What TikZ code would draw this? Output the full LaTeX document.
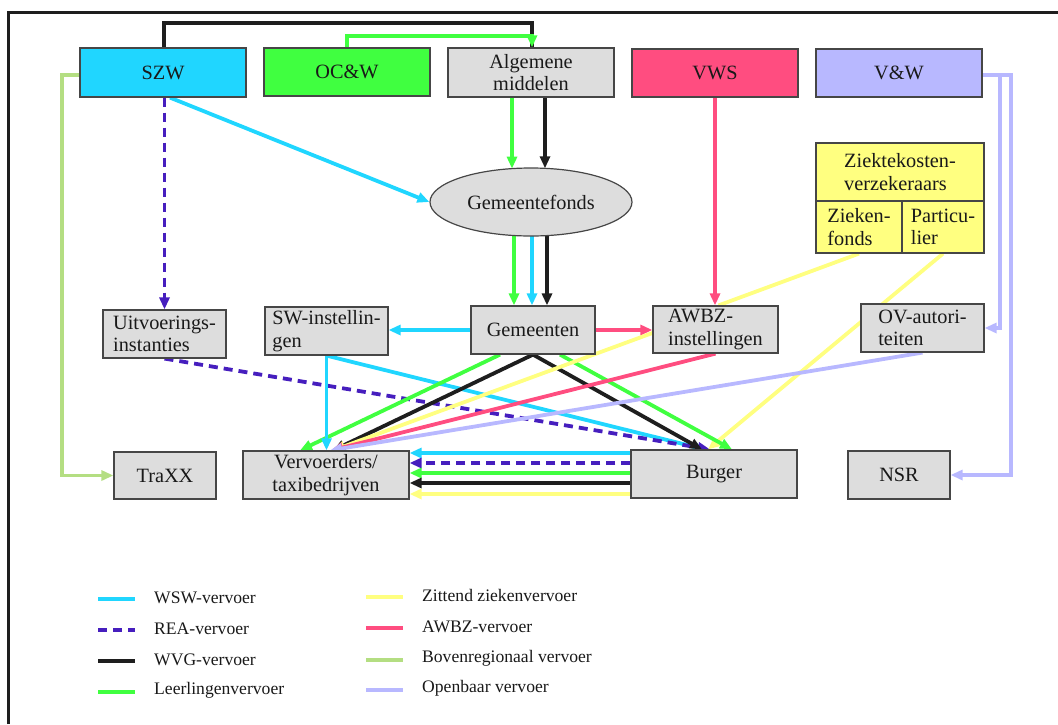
\documentclass[tikz,border=0pt]{standalone}
\usepackage{fontspec}
\setmainfont{Liberation Serif}
\usetikzlibrary{arrows.meta,shapes.geometric,backgrounds}

\definecolor{cWSW}{RGB}{32,214,255}
\definecolor{cREA}{RGB}{70,30,190}
\definecolor{cWVG}{RGB}{30,30,30}
\definecolor{cLeer}{RGB}{64,255,64}
\definecolor{cZit}{RGB}{255,255,128}
\definecolor{cAWBZ}{RGB}{255,77,128}
\definecolor{cBoven}{RGB}{180,222,130}
\definecolor{cOV}{RGB}{184,184,255}
\definecolor{boxgray}{RGB}{221,221,221}
\definecolor{boxline}{RGB}{70,70,70}
\definecolor{ink}{RGB}{25,25,25}

\begin{document}
\begin{tikzpicture}[x=1pt,y=-1pt,
  every node/.style={text=ink},
  box/.style={draw=boxline, line width=1.2pt, fill=boxgray, inner sep=0pt,
              align=left, font=\fontsize{20.3}{22.5}\selectfont},
  legtext/.style={anchor=west, inner sep=0pt, font=\fontsize{17.6}{20}\selectfont},
  conn/.style={line width=3.8pt},
  tip/.style={-{Triangle[length=12pt,width=10pt]}},
  lnWSW/.style={conn, draw=cWSW},
  lnREA/.style={conn, draw=cREA, dash pattern=on 9pt off 6pt},
  lnWVG/.style={conn, draw=cWVG},
  lnLeer/.style={conn, draw=cLeer},
  lnZit/.style={conn, draw=cZit},
  lnAWBZ/.style={conn, draw=cAWBZ},
  lnBoven/.style={conn, draw=cBoven},
  lnOV/.style={conn, draw=cOV},
  legline/.style={line width=3.8pt}
]
\useasboundingbox (0,0) rectangle (1058,724);

% outer frame
\draw[line width=3pt, draw=cWVG] (8,724) -- (8,12) -- (1058,12);

% ---- ministries and funds ----
\node[box, fill=cWSW, minimum width=166pt, minimum height=49pt] (szw) at (163,72.5) {SZW};
\node[box, fill=cLeer, minimum width=166pt, minimum height=48pt] (ocw) at (347,72) {OC\&W};
\node[box, align=center, minimum width=166pt, minimum height=49pt] (alg) at (531,72.5) {Algemene\\middelen};
\node[box, fill=cAWBZ, minimum width=166pt, minimum height=48pt] (vws) at (715,73) {VWS};
\node[box, fill=cOV, minimum width=166pt, minimum height=48pt] (vw) at (899,73) {V\&W};
\node[box, ellipse, minimum width=202pt, minimum height=68pt] (gf) at (531,202) {Gemeentefonds};

% health insurers
\node[box, fill=cZit, minimum width=168pt, minimum height=58pt] (zk) at (900,172) {Ziektekosten-\\verzekeraars};
\node[box, fill=cZit, minimum width=86pt, minimum height=52pt] (zkf) at (859,227) {Zieken-\\fonds};
\node[box, fill=cZit, minimum width=82pt, minimum height=52pt] (part) at (943,227) {Particu-\\lier};

% middle row
\node[box, minimum width=123pt, minimum height=48pt] (uitv) at (164.5,334) {Uitvoerings-\\instanties};
\node[box, minimum width=123pt, minimum height=48pt] (sw) at (326.5,331) {SW-instellin-\\gen};
\node[box, minimum width=124pt, minimum height=48pt] (gem) at (533,330) {Gemeenten};
\node[box, minimum width=125pt, minimum height=47pt] (awbz) at (715.5,329.5) {AWBZ-\\instellingen};
\node[box, minimum width=123pt, minimum height=48pt] (ov) at (922.5,328) {OV-autori-\\teiten};

% bottom row
\node[box, minimum width=102pt, minimum height=47pt] (traxx) at (165,475.5) {TraXX};
\node[box, align=center, minimum width=166pt, minimum height=48pt] (verv) at (326,475) {Vervoerders/\\taxibedrijven};
\node[box, minimum width=166pt, minimum height=48pt] (burger) at (714,474) {Burger};
\node[box, minimum width=102pt, minimum height=48pt] (nsr) at (899,475) {NSR};

% ---- money and transport flows (behind the boxes) ----
\begin{scope}[on background layer]
  % into Algemene middelen
  \coordinate (topB) at (532,23);
  \coordinate (topG) at (532,36);
  \draw[lnWVG] ([xshift=1pt]szw.north) |- (topB) -- ([xshift=1pt]alg.north);
  \draw[lnLeer,tip] (ocw.north) |- (topG) -- ([xshift=1pt]alg.north);

  % from SZW
  \draw[lnWSW,tip] ([xshift=7pt]szw.south) -- (gf.west);
  \draw[lnREA,tip] (szw.south -| uitv.north) -- (uitv.north);
  \coordinate (bvTurn) at (62,75);
  \draw[lnBoven,tip] ([yshift=-2.5pt]szw.west) -- (bvTurn) |- (traxx.west);

  % Algemene middelen -> Gemeentefonds
  \draw[lnLeer,tip] ([xshift=-19pt]alg.south) -- ([xshift=-19pt,yshift=33.4pt]gf.center);
  \draw[lnWVG,tip] ([xshift=14pt]alg.south) -- ([xshift=14pt,yshift=33.7pt]gf.center);

  % Gemeentefonds -> Gemeenten
  \draw[lnLeer,tip] ([xshift=-17pt,yshift=-33.5pt]gf.center) -- ([xshift=-19pt]gem.north);
  \draw[lnWSW,tip] ([xshift=1pt,yshift=-34pt]gf.center) -- ([xshift=-1pt]gem.north);
  \draw[lnWVG,tip] ([xshift=16pt,yshift=-33.6pt]gf.center) -- ([xshift=14pt]gem.north);

  % VWS -> AWBZ-instellingen
  \draw[lnAWBZ,tip] (vws.south) -- (vws.south |- awbz.north);

  % Gemeenten sideways
  \draw[lnWSW,tip] (gem.west) -- (sw.east |- gem.west);
  \draw[lnAWBZ,tip] (gem.east) -- (awbz.west |- gem.east);

  % towards Burger
  \draw[lnWSW,tip] (sw.south) -- ([xshift=-9pt]burger.north);
  \draw[lnREA,tip] (uitv.south) -- ([xshift=-4pt]burger.north);
  \draw[lnWVG,tip] (gem.south) -- ([xshift=-12pt]burger.north);
  \draw[lnZit,tip] (part.south) -- ([xshift=-6pt]burger.north);
  \draw[lnLeer,tip] ([xshift=27pt]gem.south) -- ([xshift=18pt]burger.north);

  % towards Vervoerders/taxibedrijven
  \draw[lnZit] (zkf.south) -- ([xshift=3pt]awbz.north);
  \draw[lnLeer,tip] ([xshift=-33pt]gem.south) -- ([xshift=-26pt]verv.north);
  \draw[lnWSW,tip] (sw.south) -- (sw.south |- verv.north);
  \draw[lnWVG,tip] (gem.south) -- ([xshift=7pt]verv.north);
  \draw[lnZit,tip] ([yshift=-3.5pt]awbz.west) -- ([xshift=7pt]verv.north);
  \draw[lnAWBZ,tip] (awbz.south) -- ([xshift=5pt]verv.north);
  \draw[lnOV,tip] (ov.south) -- ([xshift=4pt]verv.north);

  % V&W -> OV-autoriteiten and NSR
  \coordinate (ovTurn) at (1000,75);
  \coordinate (nsrTurn) at (1011,75);
  \draw[lnOV,tip] ([yshift=-2pt]vw.east) -- (nsrTurn) |- (nsr.east);
  \draw[lnOV,tip] ([yshift=-2pt]vw.east) -- (ovTurn) |- (ov.east);

  % Burger -> Vervoerders/taxibedrijven
  \coordinate (h1) at ([yshift=21pt]burger.west);
  \coordinate (h2) at ([yshift=11pt]burger.west);
  \coordinate (h3) at ([yshift=1pt]burger.west);
  \coordinate (h4) at ([yshift=-9pt]burger.west);
  \coordinate (h5) at ([yshift=-20pt]burger.west);
  \draw[lnWSW,tip] (h1) -- (verv.east |- h1);
  \draw[lnREA,tip] (h2) -- (verv.east |- h2);
  \draw[lnLeer,tip] (h3) -- (verv.east |- h3);
  \draw[lnWVG,tip] (h4) -- (verv.east |- h4);
  \draw[lnZit,tip] (h5) -- (verv.east |- h5);
\end{scope}

% ---- legend ----
\coordinate (la1) at (98,599);  \coordinate (lb1) at (135,599);
\coordinate (la2) at (98,630);  \coordinate (lb2) at (135,630);
\coordinate (la3) at (98,661);  \coordinate (lb3) at (135,661);
\coordinate (la4) at (98,692);  \coordinate (lb4) at (135,692);
\coordinate (ra1) at (366,597); \coordinate (rb1) at (403,597);
\coordinate (ra2) at (366,628); \coordinate (rb2) at (403,628);
\coordinate (ra3) at (366,660); \coordinate (rb3) at (403,660);
\coordinate (ra4) at (366,690); \coordinate (rb4) at (403,690);

\draw[legline, draw=cWSW] (la1) -- (lb1);
\draw[legline, draw=cREA, dash pattern=on 9pt off 6pt] (la2) -- (lb2);
\draw[legline, draw=cWVG] (la3) -- (lb3);
\draw[legline, draw=cLeer] (la4) -- (lb4);
\draw[legline, draw=cZit] (ra1) -- (rb1);
\draw[legline, draw=cAWBZ] (ra2) -- (rb2);
\draw[legline, draw=cBoven] (ra3) -- (rb3);
\draw[legline, draw=cOV] (ra4) -- (rb4);

\node[legtext] (tWSW) at (154,597.5) {WSW-vervoer};
\node[legtext] (tREA) at (154,628.5) {REA-vervoer};
\node[legtext] (tWVG) at (154,659.5) {WVG-vervoer};
\node[legtext] (tLeer) at (154,690.5) {Leerlingenvervoer};
\node[legtext] (tZit) at (422,595.5) {Zittend ziekenvervoer};
\node[legtext] (tAWBZ) at (422,626.5) {AWBZ-vervoer};
\node[legtext] (tBoven) at (422,658.5) {Bovenregionaal vervoer};
\node[legtext] (tOV) at (422,688.5) {Openbaar vervoer};
\end{tikzpicture}
\end{document}
